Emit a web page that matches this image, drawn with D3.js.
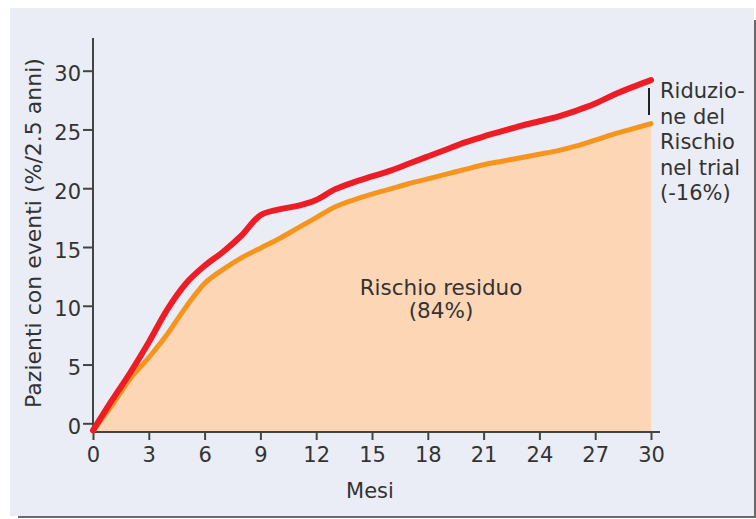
<!DOCTYPE html>
<html>
<head>
<meta charset="utf-8">
<script src="https://cdn.jsdelivr.net/npm/d3@7"></script>
<style>
  body { margin: 0; background: #fff; }
  svg text { font-family: "DejaVu Sans", Verdana, sans-serif; fill: #333; }
</style>
</head>
<body>
<svg id="chart" width="756" height="519"></svg>
<script>
// months on the x axis and the two cumulative event curves (%)
const months = [0,1,2,3,4,5,6,7,8,9,10,11,12,13,14,15,16,17,18,19,20,21,22,23,24,25,26,27,28,29,30];
const redValues = [-0.6,1.9,4.3,6.9,9.7,11.9,13.4,14.6,16.0,17.7,18.2,18.5,19.0,19.9,20.5,21.0,21.5,22.1,22.7,23.3,23.9,24.4,24.85,25.3,25.7,26.1,26.6,27.2,27.95,28.6,29.2];
const orangeValues = [-0.6,1.5,3.8,5.6,7.6,9.9,11.9,13.1,14.1,14.9,15.7,16.6,17.5,18.4,19.0,19.5,19.95,20.4,20.8,21.2,21.6,22.0,22.3,22.6,22.9,23.2,23.6,24.1,24.6,25.05,25.5];
const xTicks = [0,3,6,9,12,15,18,21,24,27,30];
const yTicks = [0,5,10,15,20,25,30];
const noteLines = ["Riduzio-", "ne del", "Rischio", "nel trial", "(-16%)"];

window.addEventListener("load", drawChart);
function drawChart() {
    var svg = d3.select("#chart");

    // panel with shadow
    svg.append("rect").attr("x", 18).attr("y", 20).attr("width", 738).attr("height", 498).attr("fill", "#6b6b6b");
    svg.append("rect").attr("x", 10).attr("y", 8).attr("width", 744).attr("height", 508).attr("fill", "#eaedf5");

    var scX = d3.scaleLinear().domain([0, 30]).range([93, 651]),
        scY = d3.scaleLinear().domain([0, 30]).range([423.3, 70.7]);

    var red = months.map((m, i) => [m, redValues[i]]),
        orange = months.map((m, i) => [m, orangeValues[i]]);

    var line = d3.line().x(d => scX(d[0])).y(d => scY(d[1])).curve(d3.curveCatmullRom);
    var area = d3.area().x(d => scX(d[0])).y0(432).y1(d => scY(d[1])).curve(d3.curveCatmullRom);

    svg.append("path").datum(orange).attr("d", area).attr("fill", "#fdd6b5");

    // axes
    var xAxis = d3.axisBottom(scX).tickValues(xTicks).tickSize(8);
    var gx = svg.append("g").attr("transform", "translate(0,432)").call(xAxis);
    gx.select(".domain").attr("d", "M93,0H660");
    gx.selectAll(".tick text").attr("y", 30).attr("dy", 0);
    var yAxis = d3.axisLeft(scY).tickValues(yTicks).tickSize(10);
    var gy = svg.append("g").attr("transform", "translate(93,0)").call(yAxis);
    gy.select(".domain").attr("d", "M0,38V432");
    gy.selectAll(".tick text").attr("x", -12).attr("dy", "0.48em");
    svg.selectAll(".domain").attr("stroke", "#444").attr("stroke-width", 2);
    svg.selectAll(".tick line").attr("stroke", "#444").attr("stroke-width", 2);
    svg.selectAll(".tick text").attr("font-size", 21).attr("fill", "#333")
       .attr("font-family", "DejaVu Sans, Verdana, sans-serif");

    svg.append("path").datum(orange).attr("d", line).attr("fill", "none")
       .attr("stroke", "#f7941d").attr("stroke-width", 5).attr("stroke-linecap", "round");
    svg.append("path").datum(red).attr("d", line).attr("fill", "none")
       .attr("stroke", "#ee1c25").attr("stroke-width", 6).attr("stroke-linecap", "round");

    // axis titles
    svg.append("text").attr("x", 370).attr("y", 498).attr("text-anchor", "middle")
       .attr("font-size", 21).text("Mesi");
    svg.append("text").attr("transform", "translate(41,233) rotate(-90)").attr("text-anchor", "middle")
       .attr("font-size", 22).text("Pazienti con eventi (%/2.5 anni)");

    // annotations
    svg.append("text").attr("x", 441).attr("y", 295).attr("text-anchor", "middle")
       .attr("font-size", 21.5).text("Rischio residuo");
    svg.append("text").attr("x", 441).attr("y", 318).attr("text-anchor", "middle")
       .attr("font-size", 21.5).text("(84%)");

    svg.append("line").attr("x1", 649).attr("x2", 649).attr("y1", 88).attr("y2", 115)
       .attr("stroke", "#222").attr("stroke-width", 2);
    svg.append("g").selectAll("text").data(noteLines).join("text")
       .attr("x", 660).attr("y", (d, i) => 98 + i * 25.5)
       .attr("font-size", 21).text(d => d);
}
</script>
</body>
</html>
